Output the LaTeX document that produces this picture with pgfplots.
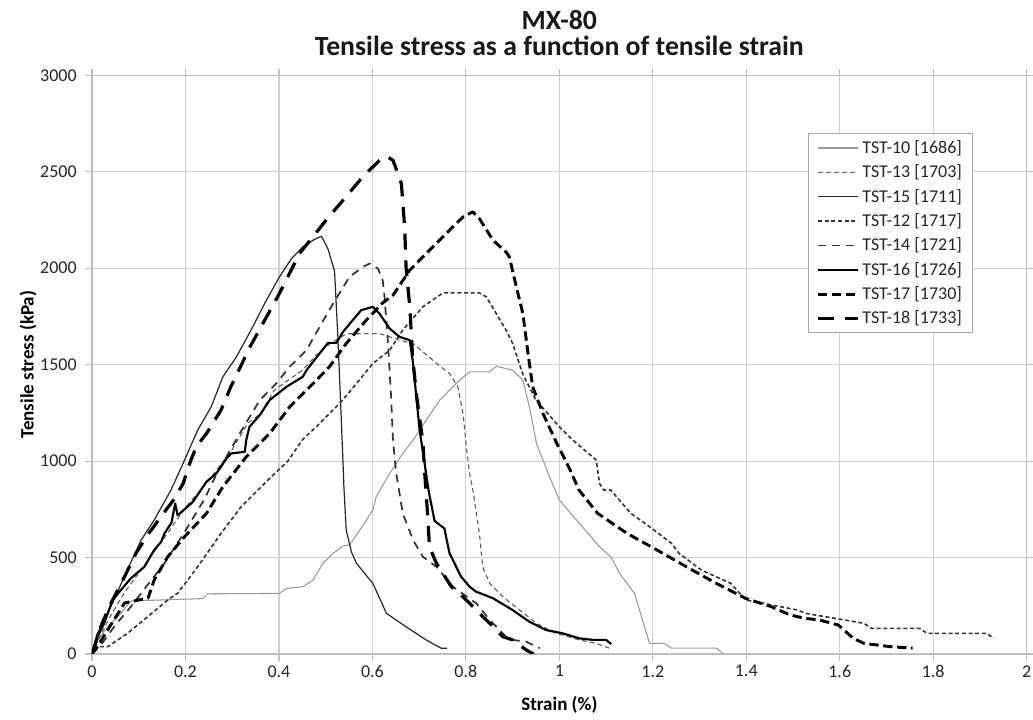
\documentclass[border=0pt]{standalone}
\usepackage{fontspec}
\setmainfont{Carlito}
\usepackage{pgfplots}
\pgfplotsset{compat=1.18}
\begin{document}
\begin{tikzpicture}
\path[use as bounding box] (-69pt,-49.5pt) rectangle (705.75pt,490.5pt);
\begin{axis}[
  name=ax, at={(0,0)}, anchor=south west, scale only axis,
  width=701pt, height=434pt,
  xmin=0, xmax=2, ymin=0, ymax=3000,
  xtick={0,0.2,0.4,0.6,0.8,1,1.2,1.4,1.6,1.8,2},
  ytick={0,500,1000,1500,2000,2500,3000},
  grid=major, major grid style={color=black!18, line width=0.9pt},
  axis line style={color=black!25, line width=0.9pt},
  tick align=outside, major tick length=5pt,
  tick style={color=black!25, line width=0.9pt},
  /pgf/number format/assume math mode=true,
  /pgf/number format/1000 sep={},
  scaled ticks=false,
  ticklabel style={font=\fontsize{13.5}{14}\selectfont, text=black!85},
  yticklabel style={xshift=-3pt},
  xlabel={Strain (\%)}, ylabel={Tensile stress (kPa)},
  xlabel style={at={(axis description cs:0.5,0)}, anchor=center, yshift=-38pt, font=\bfseries\fontsize{14.25}{15}\selectfont},
  ylabel style={at={(axis description cs:0,0.5)}, anchor=center, yshift=48pt, font=\bfseries\fontsize{14.25}{15}\selectfont},
  legend style={at={(rel axis cs:0.766,0.8998)}, anchor=north west, draw=black!35, line width=0.8pt,
    font=\fontsize{13.5}{14}\selectfont, row sep=3pt, inner xsep=6pt, inner ysep=3pt, text=black!85},
  legend cell align=left,
  legend image code/.code={\draw[#1] (0pt,0pt) -- (30pt,0pt);},
  every axis plot/.append style={line join=round, no markers},
]
% TST-10 [1686]
\addplot[color=black!40, line width=0.8pt] coordinates {
(0,0) (0.012,73) (0.034,141) (0.062,211) (0.083,275) (0.237,287) (0.248,312) (0.401,314) (0.416,340) (0.451,349) (0.473,383) (0.494,470) (0.516,522) (0.537,560) (0.551,565) (0.573,642) (0.601,746) (0.608,815) (0.637,936) (0.665,1040) (0.687,1109) (0.715,1212) (0.744,1316) (0.779,1402) (0.808,1463) (0.851,1463) (0.865,1492) (0.9,1471) (0.922,1420) (0.936,1281) (0.951,1092) (0.979,919) (1.0,798) (1.043,677) (1.086,556) (1.11,504) (1.129,418) (1.161,314) (1.193,55) (1.225,55) (1.24,30) (1.336,30) (1.351,0)
};
\addlegendentry{TST-10 [1686]}
% TST-13 [1703]
\addplot[color=black!65, line width=0.8pt, dash pattern=on 3.5pt off 2.5pt] coordinates {
(0,0) (0.015,80) (0.04,200) (0.07,320) (0.1,420) (0.13,520) (0.16,620) (0.2,760) (0.25,900) (0.3,1060) (0.333,1195) (0.361,1247) (0.39,1368) (0.42,1420) (0.45,1470) (0.48,1550) (0.51,1610) (0.53,1640) (0.545,1660) (0.616,1661) (0.658,1627) (0.687,1610) (0.729,1523) (0.765,1454) (0.783,1385) (0.794,1247) (0.801,1074) (0.808,936) (0.815,850) (0.829,625) (0.836,452) (0.851,366) (0.879,297) (0.915,228) (0.951,159) (0.993,107) (1.043,73) (1.079,55) (1.107,30)
};
\addlegendentry{TST-13 [1703]}
% TST-15 [1711]
\addplot[color=black!85, line width=0.9pt] coordinates {
(0,0) (0.01,100) (0.034,212) (0.069,400) (0.105,590) (0.133,694) (0.169,850) (0.198,1005) (0.226,1160) (0.255,1281) (0.28,1437) (0.309,1540) (0.344,1696) (0.37,1820) (0.401,1955) (0.427,2050) (0.451,2110) (0.473,2145) (0.491,2166) (0.505,2100) (0.519,1985) (0.526,1650) (0.532,1300) (0.537,1000) (0.539,867) (0.544,642) (0.555,530) (0.566,470) (0.601,366) (0.63,211) (0.672,141) (0.715,73) (0.747,30) (0.76,30)
};
\addlegendentry{TST-15 [1711]}
% TST-12 [1717]
\addplot[color=black!80, line width=1.2pt, dash pattern=on 3pt off 2pt] coordinates {
(0,0) (0.005,38) (0.034,38) (0.076,107) (0.119,193) (0.162,280) (0.183,314) (0.226,452) (0.276,625) (0.319,763) (0.369,884) (0.419,1000) (0.45,1110) (0.487,1195) (0.53,1299) (0.566,1402) (0.601,1506) (0.637,1575) (0.665,1679) (0.708,1800) (0.751,1872) (0.829,1872) (0.844,1851) (0.886,1679) (0.9,1611) (0.921,1456) (0.95,1316) (1.0,1178) (1.029,1109) (1.079,1005) (1.086,884) (1.095,850) (1.11,850) (1.153,729) (1.193,660) (1.24,574) (1.256,522) (1.304,435) (1.367,366) (1.399,280) (1.51,228) (1.526,211) (1.589,185) (1.652,159) (1.668,133) (1.771,133) (1.787,107) (1.914,107) (1.93,81)
};
\addlegendentry{TST-12 [1717]}
% TST-14 [1721]
\addplot[color=black!80, line width=1.3pt, dash pattern=on 6pt off 4.5pt] coordinates {
(0,0) (0.02,50) (0.05,150) (0.083,245) (0.116,349) (0.155,470) (0.2,640) (0.24,800) (0.266,930) (0.316,1143) (0.359,1316) (0.394,1402) (0.423,1489) (0.459,1575) (0.487,1696) (0.516,1817) (0.551,1955) (0.58,2007) (0.594,2024) (0.612,1998) (0.622,1938) (0.626,1851) (0.633,1627) (0.64,1333) (0.644,1109) (0.651,936) (0.665,729) (0.687,591) (0.708,504) (0.737,452) (0.772,349) (0.822,263) (0.851,176) (0.886,90) (0.9,73) (0.929,64) (0.958,30)
};
\addlegendentry{TST-14 [1721]}
% TST-16 [1726]
\addplot[color=black, line width=1.6pt] coordinates {
(0,0) (0.012,90) (0.026,159) (0.044,280) (0.062,332) (0.083,392) (0.112,452) (0.133,539) (0.148,582) (0.155,625) (0.17,680) (0.178,780) (0.183,720) (0.188,729) (0.216,789) (0.245,893) (0.266,936) (0.288,1014) (0.298,1040) (0.327,1048) (0.33,1109) (0.337,1178) (0.359,1238) (0.38,1316) (0.416,1385) (0.451,1437) (0.459,1471) (0.487,1558) (0.505,1613) (0.523,1613) (0.537,1670) (0.558,1731) (0.576,1782) (0.601,1800) (0.615,1765) (0.637,1687) (0.658,1644) (0.68,1627) (0.687,1506) (0.694,1333) (0.701,1161) (0.708,1050) (0.72,850) (0.733,690) (0.754,651) (0.765,522) (0.79,400) (0.808,349) (0.822,323) (0.858,289) (0.9,228) (0.936,167) (0.972,124) (1.007,107) (1.043,81) (1.072,73) (1.1,73) (1.111,52)
};
\addlegendentry{TST-16 [1726]}
% TST-17 [1730]
\addplot[color=black, line width=2.2pt, dash pattern=on 7pt off 3.5pt] coordinates {
(0,0) (0.012,40) (0.04,150) (0.07,265) (0.1,280) (0.12,290) (0.133,383) (0.162,504) (0.198,608) (0.245,729) (0.28,867) (0.33,1022) (0.38,1143) (0.423,1281) (0.473,1402) (0.508,1489) (0.544,1610) (0.587,1731) (0.622,1820) (0.644,1860) (0.68,1990) (0.722,2093) (0.765,2197) (0.794,2266) (0.815,2292) (0.829,2257) (0.858,2145) (0.886,2084) (0.893,2059) (0.908,1903) (0.922,1765) (0.933,1558) (0.943,1385) (0.965,1247) (0.995,1090) (1.022,960) (1.042,850) (1.082,729) (1.145,625) (1.209,539) (1.272,452) (1.336,366) (1.399,288) (1.454,245) (1.494,202) (1.526,185) (1.557,176) (1.597,150) (1.629,81) (1.652,55) (1.708,38) (1.756,30)
};
\addlegendentry{TST-17 [1730]}
% TST-18 [1733]
\addplot[color=black, line width=2.4pt, dash pattern=on 12pt off 8pt] coordinates {
(0,0) (0.02,150) (0.04,260) (0.066,383) (0.094,522) (0.12,620) (0.15,720) (0.175,800) (0.195,884) (0.209,988) (0.223,1074) (0.245,1143) (0.276,1264) (0.297,1385) (0.338,1592) (0.401,1869) (0.444,2076) (0.475,2170) (0.501,2249) (0.537,2352) (0.579,2473) (0.619,2568) (0.63,2580) (0.644,2560) (0.662,2439) (0.669,2214) (0.672,2007) (0.68,1800) (0.686,1540) (0.695,1330) (0.708,1100) (0.712,936) (0.719,694) (0.722,556) (0.737,470) (0.769,349) (0.786,314) (0.808,263) (0.829,211) (0.851,159) (0.879,90) (0.9,73) (0.929,21) (0.945,0)
};
\addlegendentry{TST-18 [1733]}
\end{axis}
\node[anchor=base, yshift=15pt, font=\bfseries\fontsize{20.8}{22}\selectfont, text=black!90] at (ax.north) {Tensile stress as a function of tensile strain};
\node[anchor=base, yshift=34pt, font=\bfseries\fontsize{20.8}{22}\selectfont, text=black!90] at (ax.north) {MX-80};
\end{tikzpicture}
\end{document}
